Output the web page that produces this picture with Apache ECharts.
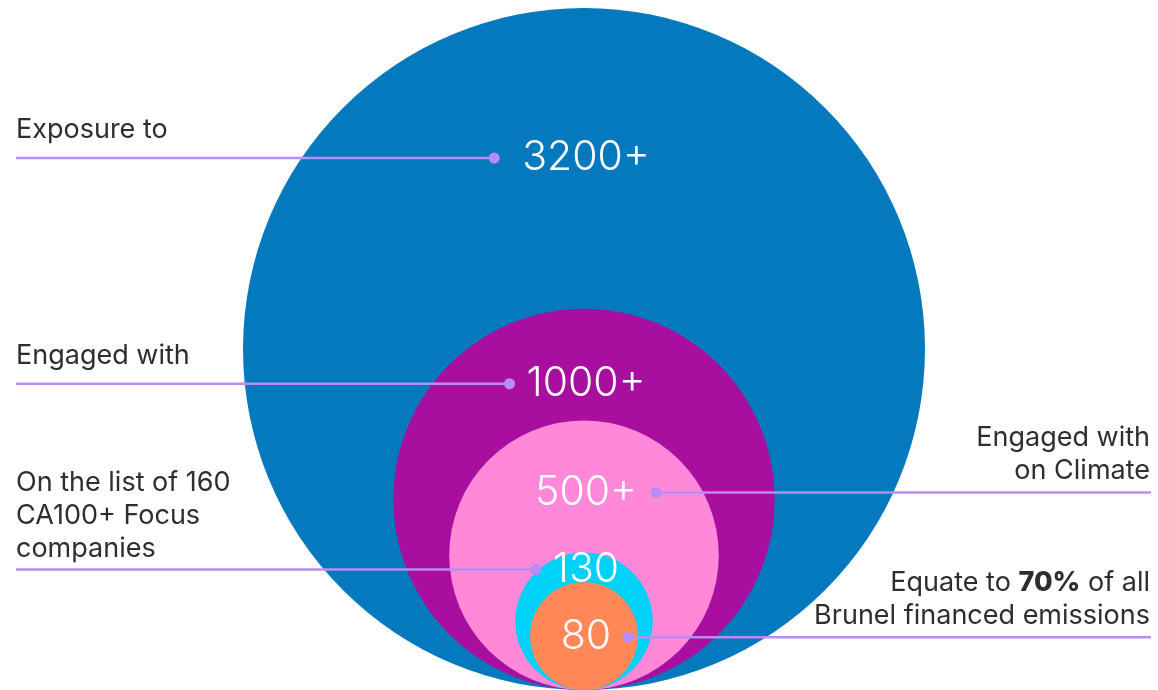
<!DOCTYPE html>
<html>
<head>
<meta charset="utf-8">
<script src="https://cdn.jsdelivr.net/npm/echarts@6/dist/echarts.min.js"></script>
<style>
  html, body { margin: 0; padding: 0; background: #ffffff; }
  #chart { width: 1158px; height: 690px; }
</style>
</head>
<body>
<div id="chart"></div>
<script>
// Company counts, largest group first; every circle sits on a common baseline
const groups = [
  'Exposure to',
  'Engaged with',
  'Engaged with\non Climate',
  'On the list of 160\nCA100+ Focus\ncompanies',
  'Equate to {b|70%} of all\nBrunel financed emissions'
];
const counts = [3200, 1000, 500, 130, 80];
const countLabels = ['3200+', '1000+', '500+', '130', '80'];

// Presentation settings (kept apart from the data)
const colors = ['#0479bd', '#a80f9f', '#ff89d8', '#00d1f6', '#ff8758'];
const labelSide = ['left', 'left', 'right', 'left', 'right'];
const labelDrop = [150, 75, 72, 17, 55];   // number label centre, px below circle top
const dotGap = [28, 17, 19, 17, 17];       // gap between number and leader dot
const textGap = [20, 19, 13, 12, 13];      // baseline of caption above the leader line
const leftEdge = 16, rightEdge = 1151;
const leaderColor = '#b88cf2';
const numFont = '300 41px Inter';
const capFontSize = 27;

const measureCtx = document.createElement('canvas').getContext('2d');
function textWidth(t, font) { measureCtx.font = font; return measureCtx.measureText(t).width; }

const chart = echarts.init(document.getElementById('chart'), null, { renderer: 'canvas' });

chart.setOption({
  animation: false,
  backgroundColor: '#ffffff',
  grid: { left: 10, right: 0, top: 8, bottom: 0 },
  xAxis: { type: 'value', min: -1, max: 1, show: false },
  yAxis: { type: 'value', min: 0, max: 2 * Math.sqrt(Math.max(...counts)), show: false },
  series: [{
    type: 'custom',
    coordinateSystem: 'cartesian2d',
    data: counts.map(v => [0, Math.sqrt(v)]),
    clip: false,
    renderItem(params, api) {
      const i = params.dataIndex;
      const r = api.value(1);
      const c = api.coord([api.value(0), r]);
      const rPx = api.size([0, r])[1];
      const top = c[1] - rPx;
      const ly = top + labelDrop[i];
      const lx = c[0] + 2;
      const w = textWidth(countLabels[i], numFont);
      const left = labelSide[i] === 'left';
      const dotX = left ? lx - w / 2 - dotGap[i] : lx + w / 2 + dotGap[i];
      const capY = ly - textGap[i] + 8;
      return {
        type: 'group',
        children: [
          { type: 'circle', shape: { cx: c[0], cy: c[1], r: rPx }, style: { fill: colors[i] } },
          {
            type: 'text', x: lx, y: ly,
            style: {
              text: countLabels[i], fill: '#ffffff', font: numFont,
              textAlign: 'center', textVerticalAlign: 'middle'
            }
          },
          {
            type: 'line',
            shape: left ? { x1: leftEdge, y1: ly, x2: dotX, y2: ly } : { x1: dotX, y1: ly, x2: rightEdge, y2: ly },
            style: { stroke: leaderColor, lineWidth: 2.5 }
          },
          { type: 'circle', shape: { cx: dotX, cy: ly, r: 5.5 }, style: { fill: leaderColor } },
          {
            type: 'text',
            x: left ? leftEdge : rightEdge - 1,
            y: capY,
            style: {
              text: groups[i],
              fill: '#2e2e2e',
              fontFamily: 'Inter',
              fontSize: capFontSize,
              fontWeight: 400,
              lineHeight: 33,
              textAlign: left ? 'left' : 'right',
              textVerticalAlign: 'bottom',
              rich: {
                b: { fontFamily: 'Inter', fontSize: capFontSize, fontWeight: 800, fill: '#2e2e2e', lineHeight: 33 }
              }
            }
          }
        ]
      };
    }
  }]
});
</script>
</body>
</html>
